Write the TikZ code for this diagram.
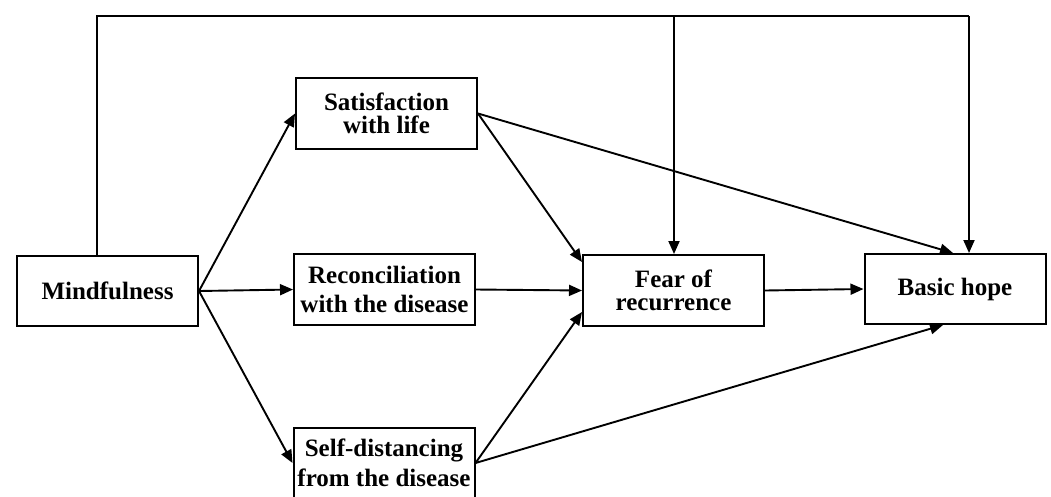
\documentclass[tikz,border=0pt]{standalone}
\usepackage{fontspec}
\setmainfont{Liberation Serif}
\usetikzlibrary{arrows.meta,calc}
\tikzset{
  boxnode/.style={draw=black, line width=2pt, fill=white, inner sep=0pt,
    minimum width=181pt, minimum height=71pt, align=center},
  tighttext/.style={font=\bfseries\fontsize{25}{23}\selectfont},
  loosetext/.style={font=\bfseries\fontsize{25}{29.5}\selectfont},
  conn/.style={line width=1.9pt, draw=black, -{Triangle[length=13pt,width=11pt]}},
  plain/.style={line width=1.9pt, draw=black}
}
\begin{document}
\begin{tikzpicture}[x=1pt,y=-1pt]
\useasboundingbox (0,0) rectangle (1051,496);
\clip (0,0) rectangle (1051,496);
\fill[white] (0,0) rectangle (1051,496);

\node[boxnode, tighttext, minimum height=70pt] (mind) at (107.5,291) {Mindfulness};
\node[boxnode, tighttext] (sat) at (386.5,113.5) {Satisfaction\\with life};
\node[boxnode, loosetext] (rec) at (384.5,289.5) {Reconciliation\\with the disease};
\node[boxnode, loosetext, minimum height=70pt] (self) at (384,463) {Self-distancing\\from the disease};
\node[boxnode, tighttext] (fear) at (673.5,290.5) {Fear of\\recurrence};
\node[boxnode, tighttext, minimum height=70pt] (hope) at (955,289) {Basic hope};

\coordinate (tl) at (97,16);
\coordinate (tm) at (674,16);
\coordinate (tr) at (969,16);

\draw[plain] (mind.north -| tl) -- (tl) -- (tr);
\draw[conn] (tr) -- (hope.north -| tr);
\draw[conn] (tm) -- (fear.north -| tm);

\draw[conn] (mind.east) -- (sat.west);
\draw[conn] (mind.east) -- (rec.west);
\draw[conn] (mind.east) -- (self.west);

\draw[conn] (sat.east) -- ($(fear.north west)+(0,8)$);
\draw[conn] (sat.east) -- ($(hope.north)+(-2,0)$);
\draw[conn] (rec.east) -- (fear.west);
\draw[conn] (self.east) -- ($(fear.south west)+(0,-15)$);
\draw[conn] (self.east) -- ($(hope.south)+(-12,0)$);
\draw[conn] (fear.east) -- (hope.west);
\end{tikzpicture}
\end{document}
